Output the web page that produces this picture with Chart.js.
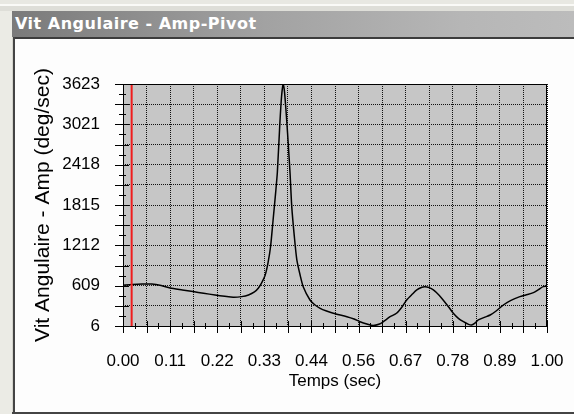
<!DOCTYPE html>
<html>
<head>
<meta charset="utf-8">
<script src="https://cdn.jsdelivr.net/npm/chart.js@4"></script>
<style>
html, body { margin: 0; padding: 0; }
body { width: 574px; height: 414px; overflow: hidden; position: relative; background: #ebebe5; }
#top { position: absolute; left: 0; top: 0; width: 574px; height: 11px;
  background: linear-gradient(#e8e8e2 0 4px, #fafaf7 4px 6px, #deded8 6px); }
#win { position: absolute; left: 12px; top: 11px; width: 562px; height: 403px; background: #fdfdfd; }
#cap { position: absolute; left: 12px; top: 11px; width: 562px; height: 26px; box-sizing: border-box;
  padding-left: 3px; color: #fff; font: bold 16px "DejaVu Sans", sans-serif; line-height: 26px;
  letter-spacing: 0.5px;
  background: linear-gradient(to right, #7a7a7a, #a2a2a2 45%, #b6b6b6 80%, #bcbcbc); }
#capline { position: absolute; left: 12px; top: 37px; width: 562px; height: 2px; background: #3c3c3c; }
#lborder { position: absolute; left: 12px; top: 37px; width: 1px; height: 377px; background: #d4d4cc;
  border-right: 2px solid #444; }
#bline { position: absolute; left: 12px; top: 412px; width: 562px; height: 2px; background: #444; }
#chart { position: absolute; left: 0; top: 0; }
</style>
</head>
<body>
<div id="top"></div>
<div id="win"></div>
<div id="cap">Vit Angulaire - Amp-Pivot</div>
<div id="capline"></div>
<div id="lborder"></div>
<div id="bline"></div>
<canvas id="chart" width="574" height="414"></canvas>
<script>
// values
const times = [0.000, 0.021, 0.045, 0.068, 0.090, 0.111, 0.140, 0.165, 0.190, 0.217,
  0.240, 0.260, 0.280, 0.296, 0.310, 0.319, 0.327, 0.335, 0.342, 0.348,
  0.354, 0.360, 0.364, 0.370, 0.374, 0.378, 0.381, 0.386, 0.390, 0.394,
  0.398, 0.404, 0.410, 0.418, 0.425, 0.441, 0.453, 0.465, 0.480, 0.496,
  0.528, 0.545, 0.559, 0.575, 0.590, 0.605, 0.614, 0.630, 0.645, 0.658,
  0.669, 0.682, 0.693, 0.705, 0.712, 0.722, 0.732, 0.745, 0.755, 0.768,
  0.779, 0.791, 0.803, 0.815, 0.822, 0.830, 0.838, 0.852, 0.866, 0.880,
  0.897, 0.915, 0.936, 0.950, 0.968, 0.980, 0.991, 1.000];
const speeds = [615, 625, 632, 632, 610, 575, 545, 520, 495, 470,
  450, 435, 445, 470, 515, 570, 650, 760, 950, 1190,
  1590, 2000, 2300, 3040, 3440, 3623, 3500, 3090, 2700, 2290,
  1790, 1350, 995, 760, 594, 395, 320, 270, 230, 196,
  145, 110, 70, 35, 12, 35, 70, 145, 196, 290,
  395, 480, 545, 585, 594, 580, 545, 470, 395, 290,
  196, 120, 70, 30, 20, 50, 96, 135, 170, 230,
  320, 390, 445, 470, 505, 550, 594, 600];
const cursorTime = 0.0204;

const xLabels = ['0.00', '0.11', '0.22', '0.33', '0.44', '0.56', '0.67', '0.78', '0.89', '1.00'];
const yLabels = ['6', '609', '1212', '1815', '2418', '3021', '3623'];
const xMin = 0, xMax = 1;
const yMin = 6, yMax = 3623;

const FONT = '"Liberation Sans", Arial, sans-serif';

// grid every half label step, labels on every other line
function halfSteps(min, max, n) {
  const out = [];
  for (let k = 0; k <= n * 2; k++) out.push(min + (max - min) * k / (n * 2));
  return out;
}
const xGrid = halfSteps(xMin, xMax, xLabels.length - 1);
const yGrid = halfSteps(yMin, yMax, yLabels.length - 1);

// plot background, frame and the small tick marks crossing the axes
const plotFrame = {
  id: 'plotFrame',
  beforeDraw(chart) {
    const { ctx, chartArea: a } = chart;
    ctx.save();
    ctx.fillStyle = '#c6c6c6';
    ctx.fillRect(a.left, a.top, a.right - a.left, a.bottom - a.top);
    ctx.restore();
  },
  afterDraw(chart) {
    const { ctx, chartArea: a, scales } = chart;
    ctx.save();
    ctx.strokeStyle = '#000';
    ctx.lineWidth = 1;
    ctx.strokeRect(a.left + 0.5, a.top + 0.5, a.right - a.left - 1, a.bottom - a.top);
    ctx.beginPath();
    const nx = (xLabels.length - 1) * 4;
    for (let k = 0; k <= nx; k++) {
      const px = Math.round(scales.x.getPixelForValue(xMin + (xMax - xMin) * k / nx)) + 0.5;
      const long = k % 2 === 0;
      ctx.moveTo(px, a.bottom - (long ? 5 : 3));
      ctx.lineTo(px, a.bottom + (long ? 7 : 3));
    }
    const ny = (yLabels.length - 1) * 4;
    for (let k = 0; k <= ny; k++) {
      const py = Math.round(scales.y.getPixelForValue(yMin + (yMax - yMin) * k / ny)) + 0.5;
      const long = k % 2 === 0;
      ctx.moveTo(a.left - (long ? 8 : 4), py);
      ctx.lineTo(a.left + (long ? 6 : 3), py);
    }
    ctx.stroke();
    ctx.restore();
  }
};

new Chart(document.getElementById('chart'), {
  type: 'line',
  data: {
    datasets: [
      {
        data: [{ x: cursorTime, y: yMin }, { x: cursorTime, y: yMax }],
        borderColor: '#f01c1c',
        borderWidth: 2,
        pointRadius: 0
      },
      {
        data: times.map((t, i) => ({ x: t, y: speeds[i] })),
        borderColor: '#000',
        borderWidth: 1.5,
        pointRadius: 0,
        tension: 0.25
      }
    ]
  },
  options: {
    responsive: false,
    animation: false,
    devicePixelRatio: 1,
    layout: { padding: { left: 0, top: 84, right: 27, bottom: 0 } },
    plugins: { legend: { display: false }, tooltip: { enabled: false } },
    scales: {
      x: {
        type: 'linear',
        min: xMin,
        max: xMax,
        afterFit: s => { s.height = 88; s.paddingLeft = 0; s.paddingRight = 0; },
        afterBuildTicks: s => { s.ticks = xGrid.map(v => ({ value: v })); },
        grid: { color: '#111', lineWidth: 1, drawTicks: false },
        border: { display: false, dash: [1, 1] },
        ticks: {
          padding: 25,
          maxRotation: 0,
          autoSkip: false,
          color: '#000',
          font: { family: FONT, size: 17 },
          callback: (v, i) => (i % 2 === 0 ? xLabels[i / 2] : '')
        },
        title: {
          display: true,
          text: 'Temps (sec)',
          color: '#000',
          font: { family: FONT, size: 17 },
          padding: { top: 0, bottom: 22 }
        }
      },
      y: {
        type: 'linear',
        min: yMin,
        max: yMax,
        afterFit: s => { s.width = 123; s.paddingTop = 0; s.paddingBottom = 0; },
        afterBuildTicks: s => { s.ticks = yGrid.map(v => ({ value: v })); },
        grid: { color: '#111', lineWidth: 1, drawTicks: false },
        border: { display: false, dash: [1, 1] },
        ticks: {
          padding: 23,
          autoSkip: false,
          color: '#000',
          font: { family: FONT, size: 17 },
          callback: (v, i) => (i % 2 === 0 ? yLabels[i / 2] : '')
        },
        title: {
          display: true,
          text: 'Vit Angulaire - Amp (deg/sec)',
          color: '#000',
          font: { family: FONT, size: 21 },
          padding: { top: 31, bottom: 0 }
        }
      }
    }
  },
  plugins: [plotFrame]
});
</script>
</body>
</html>
